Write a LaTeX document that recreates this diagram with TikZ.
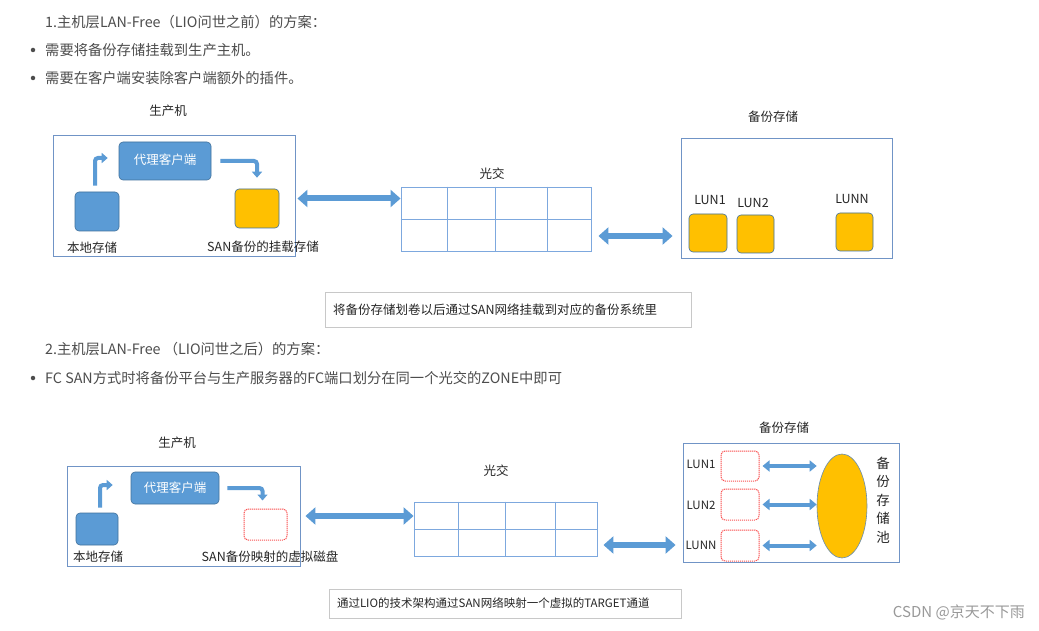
\documentclass[tikz,border=0pt]{standalone}
\usepackage{fontspec}
\setmainfont{Noto Sans CJK SC}
\usetikzlibrary{arrows.meta, shapes.geometric, calc}
\definecolor{officeblue}{RGB}{91,155,213}
\definecolor{edgeblue}{RGB}{65,113,156}
\definecolor{frameblue}{RGB}{112,148,198}
\definecolor{gridblue}{RGB}{125,168,222}
\definecolor{lunyellow}{RGB}{255,192,0}
\definecolor{textgray}{RGB}{77,77,77}
\definecolor{labelgray}{RGB}{38,38,38}
\definecolor{dashred}{RGB}{250,80,80}
\definecolor{capgray}{RGB}{200,200,200}

\begin{document}
\begin{tikzpicture}[x=1pt, y=-1pt,
  txt/.style={font=\fontsize{14.3}{16}\selectfont, text=textgray, anchor=west, inner sep=0},
  dot/.style={circle, fill=textgray, inner sep=0, minimum size=4.5pt},
  lbl/.style={font=\fontsize{12.5}{14}\selectfont, text=labelgray, inner sep=0},
  boxframe/.style={draw=frameblue, line width=0.9pt, inner sep=0},
  bluebox/.style={draw=edgeblue, fill=officeblue, rounded corners=4pt, line width=0.6pt, inner sep=0, font=\fontsize{12.5}{14}\selectfont, text=white},
  yellowbox/.style={draw=edgeblue, fill=lunyellow, rounded corners=4pt, line width=0.6pt, inner sep=0},
  dashbox/.style={draw=dashred, dash pattern=on 1.2pt off 0.8pt, rounded corners=4pt, line width=1pt, inner sep=0},
  gridline/.style={draw=gridblue, line width=0.8pt},
  bentarrow/.style={draw=officeblue, line width=4pt, rounded corners=3pt, -{Triangle[width=10pt,length=6pt]}},
  dblarrow/.style={draw=officeblue, line width=6pt, {Triangle[width=17pt,length=10pt]}-{Triangle[width=17pt,length=10pt]}},
  smalldbl/.style={draw=officeblue, line width=4pt, {Triangle[width=11pt,length=7pt]}-{Triangle[width=11pt,length=7pt]}},
  capbox/.style={draw=capgray, line width=0.8pt, inner xsep=8pt, align=left, font=\fontsize{12.5}{14}\selectfont, text=labelgray}
]
  \fill[white] (0,0) rectangle (1039,631);
  \useasboundingbox (0,0) rectangle (1039,631);

  % header texts
  \node[txt] (head1) at (45,22) {1.主机层LAN-Free（LIO问世之前）的方案：};
  \node[dot] (dot1) at (33,50) {};
  \node[txt] (item1) at (45,50) {需要将备份存储挂载到生产主机。};
  \node[dot] (dot2) at (33,78) {};
  \node[txt] (item2) at (45,78) {需要在客户端安装除客户端额外的插件。};

  % part 1: host
  \node[lbl] (hostlbl1) at (168,111) {生产机};
  \node[boxframe, minimum width=242, minimum height=121] (host1) at (174,195.5) {};
  \node[bluebox, minimum width=92, minimum height=38] (agent1) at (165,161) {\raisebox{3pt}{代理客户端}};
  \node[bluebox, minimum width=44, minimum height=39] (local1) at (97,211.5) {};
  \node[yellowbox, minimum width=44, minimum height=39] (san1) at (257,208.5) {};
  \node[lbl] (locallbl1) at (92,248) {本地存储};
  \node[lbl] (sanlbl1) at (263,247) {SAN备份的挂载存储};
  \draw[bentarrow, shorten <=6pt, shorten >=11pt] ([xshift=-2]local1.north) |- ([yshift=3]agent1.west);
  \draw[bentarrow, shorten <=9pt, shorten >=11pt] (agent1.east) -| (san1.north);

  % part 1: switch
  \node[lbl] (swlbl1) at (492,174) {光交};
  \node[boxframe, draw=gridblue, minimum width=190, minimum height=64] (sw1) at (496,219) {};
  \draw[gridline] (sw1.west) -- (sw1.east);
  \foreach \dx in {47,95,147}
    \draw[gridline] ([xshift=\dx]sw1.north west) -- ([xshift=\dx]sw1.south west);
  \draw[dblarrow, shorten <=2pt] ([yshift=-3]host1.east) -- ([yshift=-3]host1.east -| sw1.west);

  % part 1: storage
  \node[lbl] (storlbl1) at (773,117) {备份存储};
  \node[boxframe, minimum width=211, minimum height=120] (stor1) at (786.5,198) {};
  \node[yellowbox, minimum width=38, minimum height=38] (lun1a) at (708,233) {};
  \node[yellowbox, minimum width=37, minimum height=38] (lun1b) at (755.5,234) {};
  \node[yellowbox, minimum width=37, minimum height=38] (lun1n) at (854.5,232) {};
  \node[lbl] (lunlbl1a) at (710,200) {LUN1};
  \node[lbl] (lunlbl1b) at (753,203) {LUN2};
  \node[lbl] (lunlbl1n) at (852,199) {LUNN};
  \draw[dblarrow, shorten <=7pt, shorten >=8pt] ([yshift=-17]sw1.east) -- ([yshift=-17]sw1.east -| stor1.west);

  \node[capbox, text width=350, minimum height=35] (cap1) at (508,309.5) {将备份存储划卷以后通过SAN网络挂载到对应的备份系统里};

  % header texts, part 2
  \node[txt] (head2) at (45,349) {2.主机层LAN-Free （LIO问世之后）的方案：};
  \node[dot] (dot3) at (33,378) {};
  \node[txt] (item3) at (45,378) {FC SAN方式时将备份平台与生产服务器的FC端口划分在同一个光交的ZONE中即可};

  % part 2: host
  \node[lbl] (hostlbl2) at (177,443) {生产机};
  \node[boxframe, minimum width=233, minimum height=100] (host2) at (183.5,516) {};
  \node[bluebox, minimum width=88, minimum height=32] (agent2) at (175,488) {\raisebox{2pt}{代理客户端}};
  \node[bluebox, minimum width=42, minimum height=32] (local2) at (97,529) {};
  \node[dashbox, minimum width=43, minimum height=31] (vdisk) at (265.5,524.5) {};
  \node[lbl] (locallbl2) at (98,557) {本地存储};
  \node[lbl] (vdisklbl) at (270,557) {SAN备份映射的虚拟磁盘};
  \draw[bentarrow, shorten <=5pt, shorten >=18pt] ([xshift=3]local2.north) |- ([yshift=3]agent2.west);
  \draw[bentarrow, shorten <=8pt, shorten >=8pt] (agent2.east) -| ([xshift=-3]vdisk.north);

  % part 2: switch
  \node[lbl] (swlbl2) at (496,471) {光交};
  \node[boxframe, draw=gridblue, minimum width=183, minimum height=54] (sw2) at (505.5,529) {};
  \draw[gridline] (sw2.west) -- (sw2.east);
  \foreach \dx in {45,92,142}
    \draw[gridline] ([xshift=\dx]sw2.north west) -- ([xshift=\dx]sw2.south west);
  \draw[dblarrow, shorten <=5pt] (host2.east) -- (host2.east -| sw2.west);

  % part 2: storage
  \node[lbl] (storlbl2) at (784,428) {备份存储};
  \node[boxframe, minimum width=216, minimum height=119] (stor2) at (791,502.5) {};
  \node[dashbox, minimum width=38, minimum height=30] (lun2a) at (740,466) {};
  \node[dashbox, minimum width=38, minimum height=31] (lun2b) at (740,504.5) {};
  \node[dashbox, minimum width=38, minimum height=31] (lun2n) at (740,545.5) {};
  \node[lbl, font=\fontsize{11.5}{13}\selectfont] (lunlbl2a) at (701,464) {LUN1};
  \node[lbl, font=\fontsize{11.5}{13}\selectfont] (lunlbl2b) at (701,505) {LUN2};
  \node[lbl, font=\fontsize{11.5}{13}\selectfont] (lunlbl2n) at (701,545) {LUNN};
  \node[ellipse, draw=edgeblue!80, fill=lunyellow, line width=0.6pt, minimum width=50, minimum height=104, inner sep=0] (pool) at (842,506) {};
  \node[lbl, font=\fontsize{13.5}{18.5}\selectfont, align=center] (poollbl) at (883,500) {备\\份\\存\\储\\池};
  \foreach \l in {lun2a,lun2b,lun2n}
    \draw[smalldbl, shorten <=3pt] (\l.east) -- (\l.east -| pool.west);
  \draw[dblarrow, shorten <=6pt, shorten >=7pt] ([yshift=-16]sw2.east) -- ([yshift=-16]sw2.east -| stor2.west);

  \node[capbox, font=\fontsize{11.5}{13}\selectfont, text width=336, minimum height=29] (cap2) at (505,603.5) {通过LIO的技术架构通过SAN网络映射一个虚拟的TARGET通道};

  % watermark
  \node[inner sep=0, anchor=east, font=\fontsize{15}{17}\selectfont, text=black!40] (mark) at (1025,612) {CSDN @京天不下雨};
\end{tikzpicture}
\end{document}
